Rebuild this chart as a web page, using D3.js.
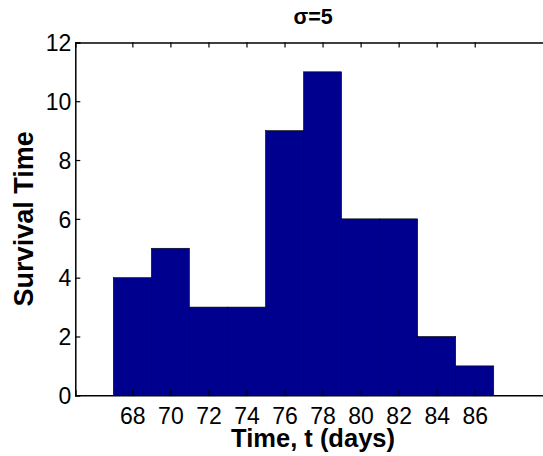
<!DOCTYPE html>
<html>
<head>
<meta charset="utf-8">
<script src="https://cdn.jsdelivr.net/npm/d3@7"></script>
<style>
    body { margin: 0; background: #fff; }
    svg { display: block; font-family: "Liberation Sans", Arial, sans-serif; }
</style>
</head>
<body>
<script>
"use strict";

var binCenters = [68, 70, 72, 74, 76, 78, 80, 82, 84, 86];
var counts = [4, 5, 3, 3, 9, 11, 6, 6, 2, 1];
var xTicks = [68, 70, 72, 74, 76, 78, 80, 82, 84, 86];
var yTicks = [0, 2, 4, 6, 8, 10, 12];
var binWidth = 2;

var W = 543, H = 456;
var axLeft = 75.3, axTop = 42.4, axRight = 550.8, axBottom = 395.3;

var svg = d3.select("body").append("svg")
    .attr("width", W)
    .attr("height", H);

var x = d3.scaleLinear().domain([65, 90]).range([axLeft, axRight]);
var y = d3.scaleLinear().domain([0, 12]).range([axBottom, axTop]);

// bars
svg.append("g")
    .selectAll("rect")
    .data(binCenters)
    .enter()
    .append("rect")
    .attr("x", function (d) { return x(d - binWidth / 2); })
    .attr("width", function (d) { return x(d + binWidth / 2) - x(d - binWidth / 2); })
    .attr("y", function (d, i) { return y(counts[i]); })
    .attr("height", function (d, i) { return y(0) - y(counts[i]); })
    .style("fill", "#00008f")
    .style("stroke", "#000")
    .style("stroke-width", 0.6);

// axes, matlab style: ticks inward, box
var tickLen = 5;

var xAxis = svg.append("g")
    .attr("transform", "translate(0," + axBottom + ")")
    .call(d3.axisBottom(x).tickValues(xTicks).tickSize(-tickLen).tickPadding(12.5));
var xTop = svg.append("g")
    .attr("transform", "translate(0," + axTop + ")")
    .call(d3.axisTop(x).tickValues(xTicks).tickSize(-tickLen).tickFormat(""));
var yAxis = svg.append("g")
    .attr("transform", "translate(" + axLeft + ",0)")
    .call(d3.axisLeft(y).tickValues(yTicks).tickSize(-tickLen).tickPadding(4));
var yRight = svg.append("g")
    .attr("transform", "translate(" + axRight + ",0)")
    .call(d3.axisRight(y).tickValues(yTicks).tickSize(-tickLen).tickFormat(""));

[xAxis, xTop, yAxis, yRight].forEach(function (g) {
    g.selectAll("path.domain").attr("stroke", "#000").attr("stroke-width", 1.5);
    g.selectAll(".tick line").attr("stroke", "#000").attr("stroke-width", 1.2);
    g.selectAll(".tick text")
        .attr("fill", "#000")
        .style("font-size", "23px");
});
xAxis.selectAll(".tick text").attr("dy", "0.71em");
yAxis.selectAll(".tick text").attr("dy", "0.36em");

// title + labels
svg.append("text")
    .attr("x", (axLeft + axRight) / 2)
    .attr("y", 24)
    .attr("text-anchor", "middle")
    .style("font-size", "21.5px")
    .style("font-weight", "bold")
    .text("σ=5");

svg.append("text")
    .attr("x", (axLeft + axRight) / 2)
    .attr("y", 447)
    .attr("text-anchor", "middle")
    .style("font-size", "25.5px")
    .style("font-weight", "bold")
    .text("Time, t (days)");

svg.append("text")
    .attr("transform", "translate(33," + (axTop + axBottom) / 2 + ") rotate(-90)")
    .attr("text-anchor", "middle")
    .style("font-size", "27px")
    .style("font-weight", "bold")
    .text("Survival Time");
</script>
</body>
</html>
